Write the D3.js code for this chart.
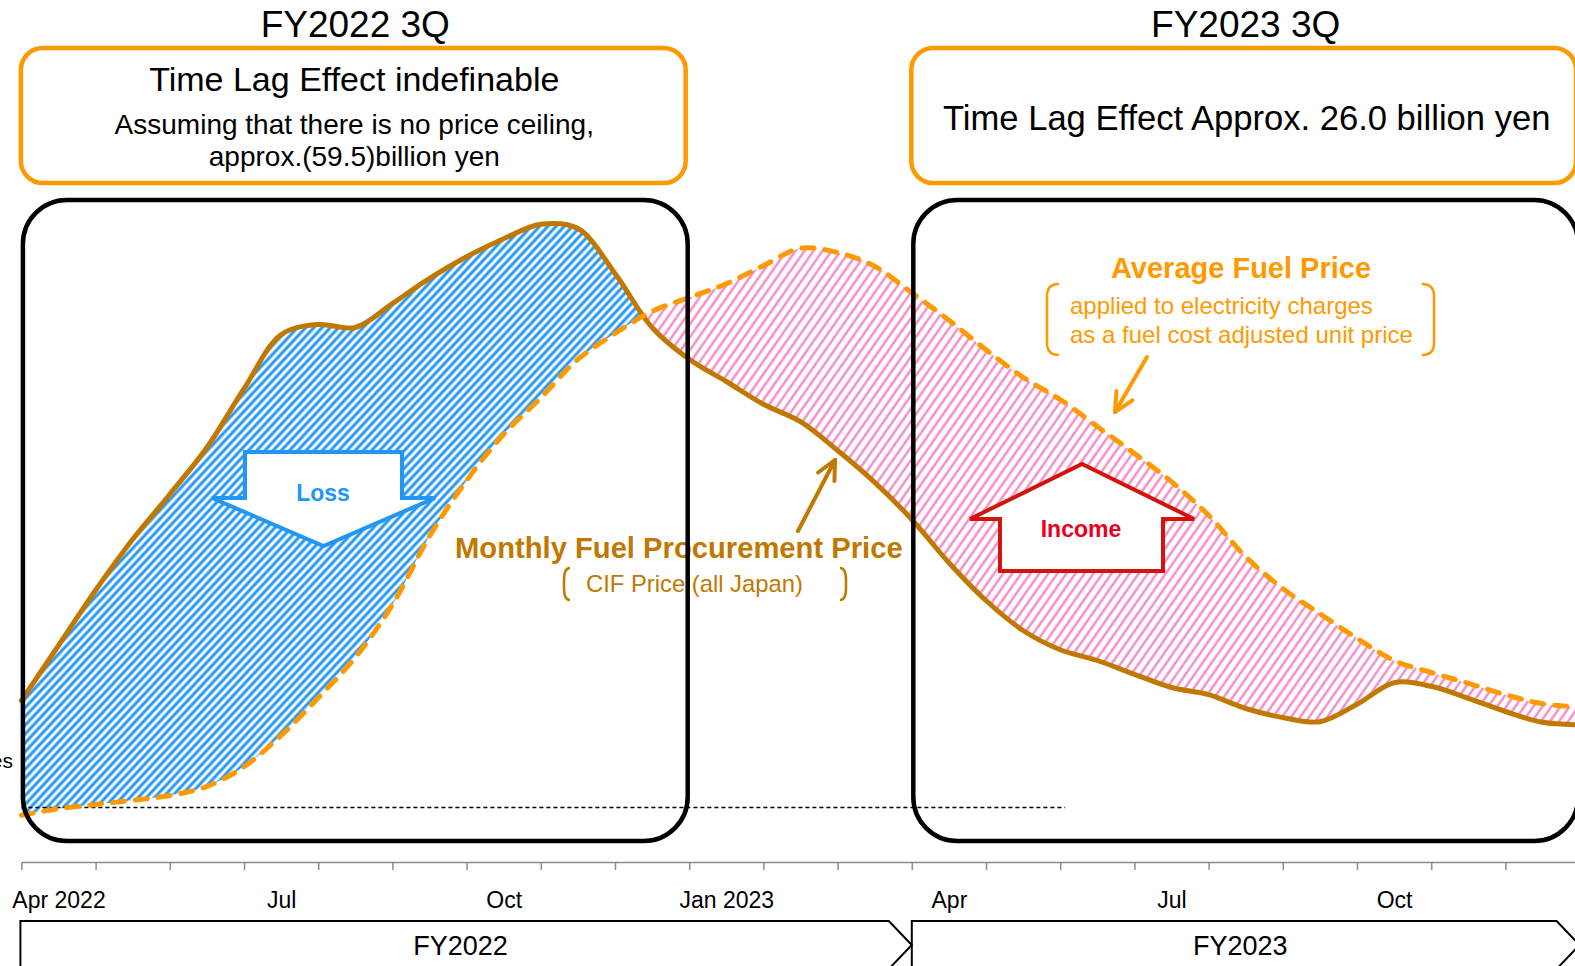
<!DOCTYPE html>
<html>
<head>
<meta charset="utf-8">
<script src="https://cdn.jsdelivr.net/npm/d3@7"></script>
<style>
  html, body { margin: 0; padding: 0; background: #fff; }
  svg { display: block; font-family: "Liberation Sans", Arial, Helvetica, sans-serif; }
</style>
</head>
<body>
<svg id="chart" width="1575" height="966"></svg>
<script>
// Sampling grid: months elapsed since 1 April 2022, in half-month steps (21 = 1 January 2024)
const monthStep = d3.range(0, 21.01, 0.5);

// Monthly fuel procurement price (CIF price, all Japan), index units
const procurementPrice = [
  17.8, 27.0, 36.2, 44.7, 52.2, 60.0, 69.8, 78.8, 80.5, 80.0, 84.0,
  88.2, 91.8, 94.8, 97.2, 96.5, 89.0, 80.0, 74.7, 71.0, 67.2, 64.3,
  59.5, 54.2, 48.0, 40.8, 34.5, 29.5, 26.3, 24.5, 22.2, 20.0, 18.8,
  16.5, 15.0, 14.3, 17.2, 20.8, 20.2, 18.2, 16.0, 14.2, 13.8
];

// Average fuel price applied to electricity charges (fuel cost adjusted unit price), index units
const averagePrice = [
  -1.3, -0.2, 0.5, 1.2, 2.0, 3.5, 6.8, 12.0, 18.3, 25.0, 33.8,
  45.2, 54.5, 62.2, 68.3, 74.7, 79.0, 82.7, 85.0, 87.3, 90.3, 93.2,
  92.5, 90.2, 85.8, 81.2, 76.3, 71.7, 68.0, 63.5, 59.0, 54.3, 48.7,
  41.8, 36.5, 32.3, 28.2, 24.5, 22.5, 20.7, 18.8, 17.3, 16.7
];

// Axis: a tick at the start of every month, a label in the middle of each quarter's first month
const monthTicks = d3.range(0, 21);
const quarterLabelPos = [0.5, 3.5, 6.5, 9.5, 12.5, 15.5, 18.5];
const quarterLabels = ["Apr 2022", "Jul", "Oct", "Jan 2023", "Apr", "Jul", "Oct"];

// Fiscal years (month offsets) and the first three quarters of each
const fiscalYears = ["FY2022", "FY2023"];
const fiscalFrom = [0, 12];
const fiscalTo = [12, 21];
const threeQuarterFrom = [0, 12];
const threeQuarterTo = [9, 21];
const threeQuarterTitles = ["FY2022 3Q", "FY2023 3Q"];

const C = {
  orange: "#FF9900",
  brown: "#C07800",
  blue: "#2196F3",
  pink: "#F58CC8",
  red: "#D2140C",
  redText: "#E8001C",
  axis: "#8c8c8c"
};

const svg = d3.select("#chart");
const x = d3.scaleLinear().domain([0, 21]).range([21.4, 1579.6]);
const y = d3.scaleLinear().domain([0, 100]).range([807.5, 207.5]);

const data = monthStep.map((m, i) => ({ m, p: procurementPrice[i], a: averagePrice[i] }));
const curve = d3.curveCatmullRom.alpha(0.5);

// ---- hatch patterns ----
const defs = svg.append("defs");
function hatch(id, color, size, width, angle) {
  const p = defs.append("pattern")
    .attr("id", id)
    .attr("patternUnits", "userSpaceOnUse")
    .attr("width", size).attr("height", size)
    .attr("patternTransform", `rotate(${angle})`);
  p.append("line")
    .attr("x1", size / 2).attr("y1", 0)
    .attr("x2", size / 2).attr("y2", size)
    .attr("stroke", color).attr("stroke-width", width);
}
hatch("hatchLoss", C.blue, 6, 3, 43);
hatch("hatchIncome", C.pink, 7.4, 2.5, 35);

// clip regions above / below the average-price curve
defs.append("clipPath").attr("id", "aboveAvg").append("path")
  .attr("d", d3.area().x(d => x(d.m)).y0(0).y1(d => y(d.a)).curve(curve)(data));
defs.append("clipPath").attr("id", "belowAvg").append("path")
  .attr("d", d3.area().x(d => x(d.m)).y0(d => y(d.a)).y1(966).curve(curve)(data));

// ---- headers: fiscal-quarter titles and result boxes ----
const boxL = threeQuarterFrom.map(m => x(m) + 1.5);
const boxR = threeQuarterTo.map(m => x(m) - 1.5);

const head = svg.append("g");
threeQuarterTitles.forEach((t, i) => {
  const cx = (boxL[i] + boxR[i]) / 2;
  head.append("text").attr("x", cx).attr("y", 37)
    .attr("text-anchor", "middle").attr("font-size", 37).attr("fill", "#000").text(t);
  head.append("rect")
    .attr("x", boxL[i] - 2).attr("y", 48)
    .attr("width", boxR[i] - boxL[i]).attr("height", 135)
    .attr("rx", 22).attr("ry", 22)
    .attr("fill", "#fff").attr("stroke", C.orange).attr("stroke-width", 4.5);
});
const c0 = (boxL[0] + boxR[0]) / 2 - 1, c1 = (boxL[1] + boxR[1]) / 2 + 1;
head.append("text").attr("x", c0).attr("y", 91).attr("text-anchor", "middle")
  .attr("font-size", 34).text("Time Lag Effect indefinable");
head.append("text").attr("x", c0).attr("y", 134).attr("text-anchor", "middle")
  .attr("font-size", 28).text("Assuming that there is no price ceiling,");
head.append("text").attr("x", c0).attr("y", 166).attr("text-anchor", "middle")
  .attr("font-size", 28).text("approx.(59.5)billion yen");
head.append("text").attr("x", c1).attr("y", 130).attr("text-anchor", "middle")
  .attr("font-size", 34.6).text("Time Lag Effect Approx. 26.0 billion yen");

// ---- hatched gaps between the two price curves ----
const band = d3.area().x(d => x(d.m)).y0(d => y(d.a)).y1(d => y(d.p)).curve(curve);
svg.append("path").attr("d", band(data))
  .attr("fill", "url(#hatchLoss)").attr("clip-path", "url(#aboveAvg)");
svg.append("path").attr("d", band(data))
  .attr("fill", "url(#hatchIncome)").attr("clip-path", "url(#belowAvg)");

// zero reference line
svg.append("line")
  .attr("x1", x(0)).attr("x2", x(14) + 5)
  .attr("y1", y(0)).attr("y2", y(0))
  .attr("stroke", "#000").attr("stroke-width", 1.3).attr("stroke-dasharray", "4,3");

// ---- price curves ----
const line = key => d3.line().x(d => x(d.m)).y(d => y(d[key])).curve(curve);
svg.append("path").attr("d", line("p")(data))
  .attr("fill", "none").attr("stroke", C.brown).attr("stroke-width", 5)
  .attr("stroke-linecap", "round").attr("stroke-linejoin", "round");
svg.append("path").attr("d", line("a")(data))
  .attr("fill", "none").attr("stroke", C.orange).attr("stroke-width", 5)
  .attr("stroke-dasharray", "12,11").attr("stroke-linecap", "round");

// ---- block arrows: Loss (down) and Income (up) ----
svg.append("path")
  .attr("d", "M245,452 L402,452 L402,498 L435,498 L323.5,546 L212,498 L245,498 Z")
  .attr("fill", "#fff").attr("stroke", C.blue).attr("stroke-width", 4).attr("stroke-linejoin", "miter");
svg.append("text").attr("x", 323).attr("y", 501).attr("text-anchor", "middle")
  .attr("font-size", 23).attr("font-weight", "bold").attr("fill", C.blue).text("Loss");

svg.append("path")
  .attr("d", "M1000,571 L1163,571 L1163,519 L1194,519 L1082,464 L970,519 L1000,519 Z")
  .attr("fill", "#fff").attr("stroke", C.red).attr("stroke-width", 4).attr("stroke-linejoin", "miter");
svg.append("text").attr("x", 1081).attr("y", 537).attr("text-anchor", "middle")
  .attr("font-size", 23).attr("font-weight", "bold").attr("fill", C.redText).text("Income");

// ---- series annotations ----
function pointer(x1, y1, x2, y2, color) {
  const g = svg.append("g").attr("stroke", color).attr("stroke-width", 4)
    .attr("stroke-linecap", "round").attr("fill", "none");
  g.append("line").attr("x1", x1).attr("y1", y1).attr("x2", x2).attr("y2", y2);
  const ang = Math.atan2(y1 - y2, x1 - x2), len = 21, spread = 26 * Math.PI / 180;
  [ang - spread, ang + spread].forEach(a => {
    g.append("line").attr("x1", x2).attr("y1", y2)
      .attr("x2", x2 + len * Math.cos(a)).attr("y2", y2 + len * Math.sin(a));
  });
}
function bracket(xEdge, xTip, y0, y1, color, w) {
  const r = Math.min(6, (y1 - y0) / 4);
  svg.append("path")
    .attr("d", `M${xTip},${y0} Q${xEdge},${y0} ${xEdge},${y0 + r * 2} L${xEdge},${y1 - r * 2} Q${xEdge},${y1} ${xTip},${y1}`)
    .attr("fill", "none").attr("stroke", color).attr("stroke-width", w);
}

// Monthly Fuel Procurement Price label
svg.append("text").attr("x", 455).attr("y", 558).attr("font-size", 29.2)
  .attr("font-weight", "bold").attr("fill", C.brown).text("Monthly Fuel Procurement Price");
svg.append("text").attr("x", 586).attr("y", 592).attr("font-size", 23.8)
  .attr("fill", C.brown).text("CIF Price (all Japan)");
bracket(564, 570, 568, 600, C.brown, 2.5);
bracket(846, 840, 568, 600, C.brown, 2.5);
pointer(798, 531, 835, 460, C.brown);

// Average Fuel Price label
svg.append("text").attr("x", 1111).attr("y", 278).attr("font-size", 29)
  .attr("font-weight", "bold").attr("fill", C.orange).text("Average Fuel Price");
svg.append("text").attr("x", 1070).attr("y", 314).attr("font-size", 24)
  .attr("fill", C.orange).text("applied to electricity charges");
svg.append("text").attr("x", 1070).attr("y", 343).attr("font-size", 24)
  .attr("fill", C.orange).text("as a fuel cost adjusted unit price");
bracket(1047, 1059, 284, 355, C.orange, 2.5);
bracket(1434, 1422, 284, 355, C.orange, 2.5);
pointer(1147, 357, 1115, 412, C.orange);

// ---- first-three-quarter frames ----
threeQuarterFrom.forEach((f, i) => {
  svg.append("rect")
    .attr("x", boxL[i]).attr("y", 200)
    .attr("width", boxR[i] - boxL[i]).attr("height", 641)
    .attr("rx", 44).attr("ry", 44)
    .attr("fill", "none").attr("stroke", "#000").attr("stroke-width", 4.5);
});

// series caption fragment at the far left edge, ending just before the frame
svg.append("text").attr("x", 13).attr("y", 768).attr("text-anchor", "end")
  .attr("font-size", 21).attr("fill", "#000").text("es");

// ---- time axis ----
const axisY = 862;
const axisG = svg.append("g").attr("transform", `translate(0,${axisY})`)
  .call(d3.axisBottom(x).tickValues(monthTicks).tickFormat("").tickSizeInner(8).tickSizeOuter(0));
axisG.select(".domain").attr("stroke", C.axis).attr("stroke-width", 1.5);
axisG.selectAll(".tick line").attr("stroke", C.axis).attr("stroke-width", 1.5);

const labelG = svg.append("g").attr("transform", `translate(0,${axisY})`)
  .call(d3.axisBottom(x).tickValues(quarterLabelPos)
    .tickFormat((d, i) => quarterLabels[i]).tickSize(0).tickPadding(0));
labelG.select(".domain").remove();
labelG.selectAll(".tick text")
  .attr("font-family", "\"Liberation Sans\", Arial, sans-serif")
  .attr("font-size", 23).attr("fill", "#000")
  .attr("dy", 0).attr("y", 46);

// ---- fiscal-year chevrons ----
const chevTop = 921, chevBot = 969, chevDepth = 23;
fiscalYears.forEach((fy, i) => {
  const x0 = i === 0 ? x(fiscalFrom[i]) - 1 : x(fiscalFrom[i]);
  const x1 = x(fiscalTo[i]);
  const mid = (chevTop + chevBot) / 2;
  svg.append("path")
    .attr("d", `M${x0},${chevBot} L${x0},${chevTop} L${x1 - chevDepth},${chevTop} L${x1},${mid} L${x1 - chevDepth},${chevBot}`)
    .attr("fill", "none").attr("stroke", "#000").attr("stroke-width", 2);
  svg.append("text").attr("x", (x0 + x1 - chevDepth) / 2 + 6).attr("y", 955)
    .attr("text-anchor", "middle").attr("font-size", 27).attr("fill", "#000").text(fy);
});
</script>
</body>
</html>
